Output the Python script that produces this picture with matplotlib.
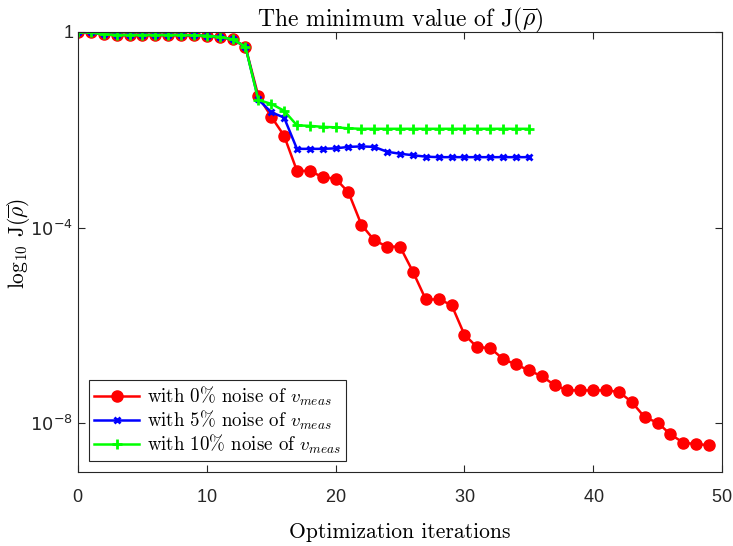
import numpy as np
import matplotlib
matplotlib.use("Agg")
import matplotlib.pyplot as plt

plt.rcParams['font.family'] = ['cmr10', 'DejaVu Serif']
plt.rcParams['mathtext.fontset'] = 'cm'
plt.rcParams['axes.formatter.use_mathtext'] = True

# log10 of J at each iteration
log_j0 = [0, -0.01, -0.05, -0.06, -0.06, -0.06, -0.06, -0.06, -0.06, -0.07,
          -0.075, -0.1, -0.15, -0.3, -1.31, -1.73, -2.12, -2.84, -2.84, -2.97,
          -3.0, -3.28, -3.94, -4.26, -4.39, -4.39, -4.9, -5.47, -5.47, -5.58,
          -6.19, -6.45, -6.46, -6.69, -6.8, -6.92, -7.04, -7.22, -7.33, -7.33,
          -7.33, -7.33, -7.36, -7.57, -7.88, -7.99, -8.23, -8.4, -8.43, -8.45]
log_j5 = [0, -0.01, -0.05, -0.06, -0.06, -0.06, -0.06, -0.06, -0.06, -0.07,
          -0.075, -0.1, -0.15, -0.3, -1.38, -1.64, -1.75, -2.39, -2.39, -2.39,
          -2.38, -2.35, -2.34, -2.35, -2.45, -2.49, -2.52, -2.55, -2.56, -2.56,
          -2.56, -2.56, -2.56, -2.56, -2.56, -2.56]
log_j10 = [0, -0.01, -0.05, -0.06, -0.06, -0.06, -0.06, -0.06, -0.06, -0.07,
           -0.075, -0.1, -0.15, -0.3, -1.39, -1.47, -1.61, -1.91, -1.92, -1.94,
           -1.95, -1.97, -1.98, -1.98, -1.98, -1.98, -1.98, -1.98, -1.98, -1.98,
           -1.98, -1.98, -1.98, -1.98, -1.98, -1.98]
labels = [r'with 0% noise of $v_{meas}$',
          r'with 5% noise of $v_{meas}$',
          r'with 10% noise of $v_{meas}$']

it0 = np.arange(len(log_j0))
it5 = np.arange(len(log_j5))
it10 = np.arange(len(log_j10))

fig = plt.figure(figsize=(7.33, 5.46), dpi=100)
ax = fig.add_axes([0.1064, 0.1355, 0.8786, 0.8059])

ax.plot(it0, 10.0 ** np.array(log_j0), '-o', color='red', lw=1.8, ms=8,
        mec='red', label=labels[0])
ax.plot(it5, 10.0 ** np.array(log_j5), '-x', color='blue', lw=1.8, ms=5,
        mew=2, label=labels[1])
ax.plot(it10, 10.0 ** np.array(log_j10), '-+', color='#00ff00', lw=1.8, ms=7,
        mew=2, label=labels[2])

ax.set_yscale('log')
ax.set_xlim(0, 50)
ax.set_ylim(1e-9, 1)
ax.set_xticks([0, 10, 20, 30, 40, 50])
ax.set_yticks([1e-8, 1e-4, 1])
ax.minorticks_off()
ax.set_yticklabels([r'$10^{-8}$', r'$10^{-4}$', '1'])
for t in ax.get_xticklabels() + ax.get_yticklabels():
    t.set_family('Liberation Sans')
    t.set_fontsize(13)
    t.set_math_fontfamily('dejavusans')
    t.set_color('#262626')
ax.tick_params(direction='in', top=True, right=True, length=5, width=0.8,
               color='#262626')
ax.tick_params(axis='x', pad=12)
for s in ax.spines.values():
    s.set_color('#262626')
    s.set_linewidth(0.8)

ax.set_title(r'The minimum value of J$(\overline{\rho})$', fontsize=17, pad=4)
ax.set_xlabel('Optimization iterations', fontsize=15.5, labelpad=12)
ax.set_ylabel(r'log$_{10}$ J$(\overline{\rho})$', fontsize=15.5, va='center')
ax.yaxis.set_label_coords(-0.093, 0.52)

leg = ax.legend(loc='lower left', fontsize=13.6, fancybox=False,
                edgecolor='#262626', framealpha=1, borderpad=0.25,
                handlelength=2.4, labelspacing=0.05, handletextpad=0.4,
                borderaxespad=0.6)
leg.get_frame().set_linewidth(0.8)

fig.savefig('out.png', dpi=100)
